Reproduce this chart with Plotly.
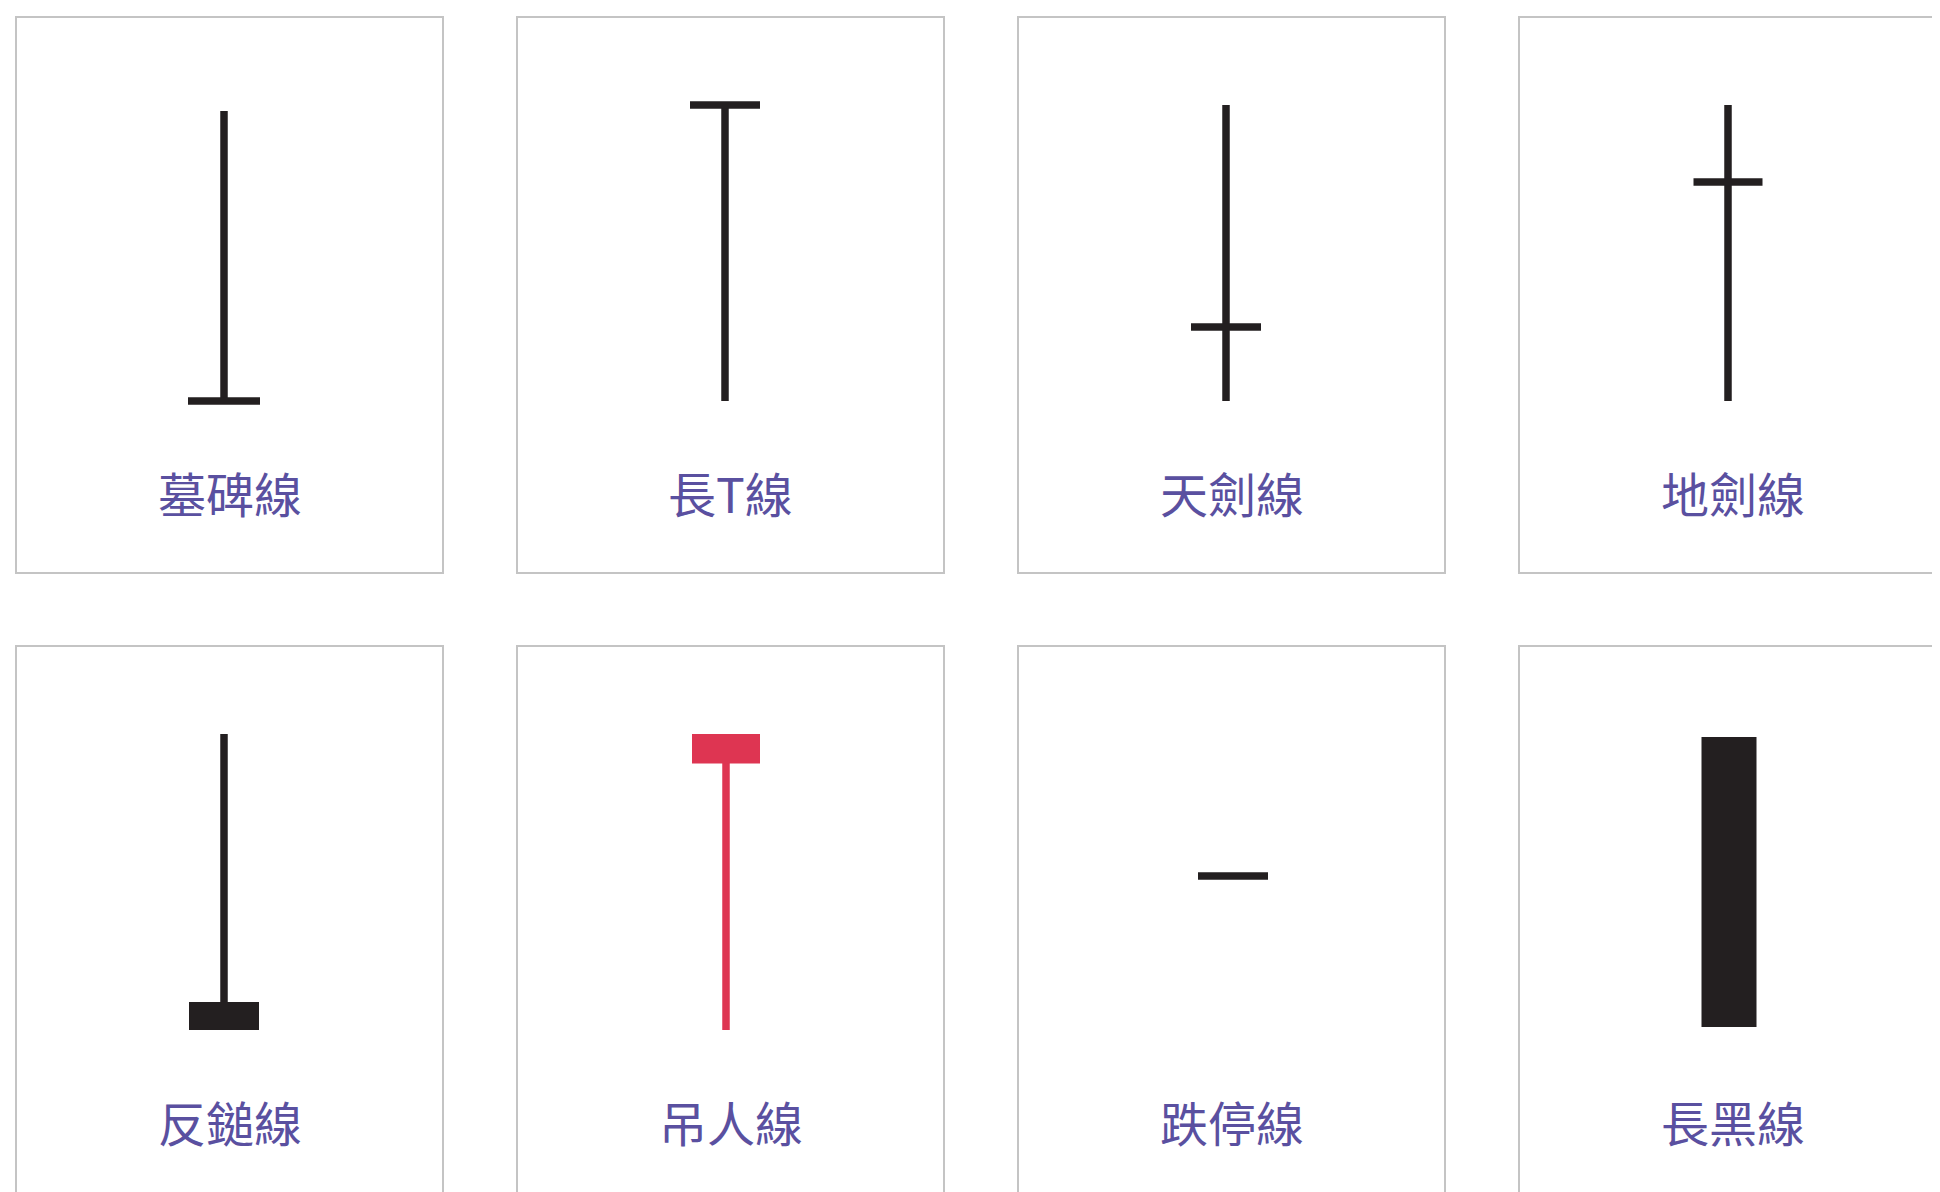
import plotly.graph_objects as go

# ---------------- data ----------------
patterns = ["墓碑線", "長T線", "天劍線", "地劍線", "反鎚線", "吊人線", "跌停線", "長黑線"]
opens  = [0,  100, 25,  74,  9.5, 90,  52, 99]
highs  = [98, 100, 100, 100, 100, 100, 52, 99]
lows   = [0,  0,   0,   0,   0,   0,   52, 1]
closes = [0,  100, 25,  74,  0,   100, 52, 1]

# ---------------- layout / style constants ----------------
W, H = 1940, 1192
PAGE_OFF = 8                      # default page margin of the HTML body
PANEL_LEFT = [16, 517, 1018, 1519]
PANEL_TOP = [17, 646]
PANEL_W, PANEL_H = 427, 556
CANDLE_DX = [208, 208, 208, 209, 208, 209, 215, 210]   # candle centre offset inside panel
BODY_W = [72, 70, 70, 69, 70, 68, 70, 55]
TOP_OFF, BOT_OFF = 88, 384        # pixel offsets of value 100 and value 0 inside a panel
PX_PER_UNIT = (BOT_OFF - TOP_OFF) / 100.0
LABEL_OFF = 475
LW = 7.5
UP_COLOR = "#DE3552"
DOWN_COLOR = "#231F20"
BORDER = "#C4C4C4"
LABEL_COLOR = "#5A50A0"

fig = go.Figure()
layout = dict(
    width=W, height=H,
    margin=dict(l=0, r=0, t=0, b=0),
    paper_bgcolor="white", plot_bgcolor="rgba(0,0,0,0)",
    showlegend=False, hovermode=False,
    shapes=[], annotations=[],
)

for i, name in enumerate(patterns):
    row, col = divmod(i, 4)
    left = PANEL_LEFT[col] - PAGE_OFF
    top = PANEL_TOP[row] - PAGE_OFF
    right_vis = min(left + PANEL_W, W)
    bot_vis = min(top + PANEL_H, H)
    cx = CANDLE_DX[i]
    s = "" if i == 0 else str(i + 1)

    # axis ranges: 1 x-unit = 1 px, y in price units
    xr = [-cx, (right_vis - left) - cx]
    y_top = 100 + TOP_OFF / PX_PER_UNIT
    y_bot = 100 - ((bot_vis - top) - TOP_OFF) / PX_PER_UNIT
    layout["xaxis" + s] = dict(domain=[left / W, right_vis / W], range=xr, visible=False,
                               fixedrange=True, anchor="y" + s)
    layout["yaxis" + s] = dict(domain=[1 - bot_vis / H, 1 - top / H], range=[y_bot, y_top],
                               visible=False, fixedrange=True, anchor="x" + s)

    o, h, l, c = opens[i], highs[i], lows[i], closes[i]
    color = UP_COLOR if c > o else DOWN_COLOR
    bw = BODY_W[i]
    xa, ya = "x" + s, "y" + s

    # shadow / wick
    if h != l:
        fig.add_trace(go.Scatter(x=[0, 0], y=[l, h], mode="lines", xaxis=xa, yaxis=ya,
                                 line=dict(color=color, width=LW), hoverinfo="skip"))
    # body
    if o == c:
        fig.add_trace(go.Scatter(x=[-bw / 2, bw / 2], y=[o, c], mode="lines", xaxis=xa, yaxis=ya,
                                 line=dict(color=color, width=LW), hoverinfo="skip"))
    else:
        fig.add_trace(go.Scatter(x=[-bw / 2, bw / 2, bw / 2, -bw / 2, -bw / 2],
                                 y=[o, o, c, c, o], mode="lines", fill="toself",
                                 fillcolor=color, xaxis=xa, yaxis=ya,
                                 line=dict(color=color, width=0), hoverinfo="skip"))

    # panel border
    layout["shapes"].append(dict(type="rect", xref="paper", yref="paper",
                                 x0=left / W, x1=(left + PANEL_W) / W,
                                 y0=1 - (top + PANEL_H) / H, y1=1 - top / H,
                                 line=dict(color=BORDER, width=2), fillcolor="rgba(0,0,0,0)",
                                 layer="below"))
    # label
    layout["annotations"].append(dict(text=name, xref="paper", yref="paper",
                                      x=(left + PANEL_W / 2) / W, y=1 - (top + LABEL_OFF) / H,
                                      xanchor="center", yanchor="middle", showarrow=False,
                                      font=dict(family="Noto Sans CJK TC", size=48,
                                                color=LABEL_COLOR)))

fig.update_layout(**layout)
fig.write_html("out.html", config={"displayModeBar": False})
